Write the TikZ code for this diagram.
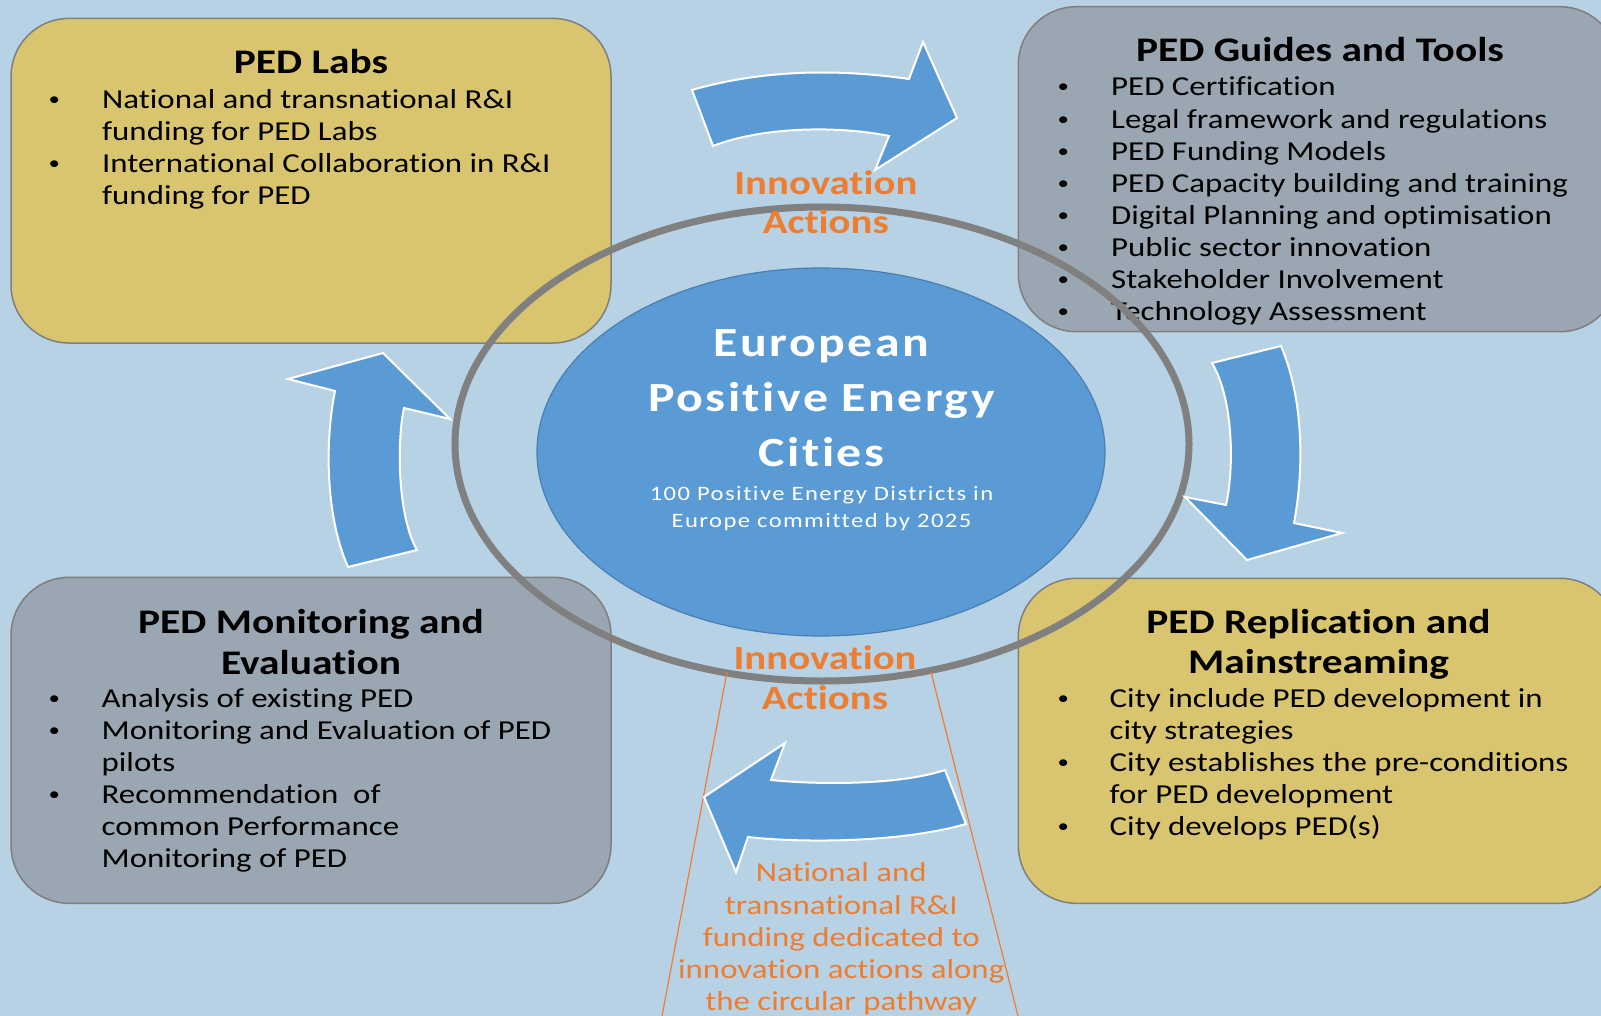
\documentclass[tikz,border=0pt]{standalone}
\usepackage{fontspec}
\setmainfont{Carlito}[FakeStretch=1.2,Ligatures=NoCommon]
\newfontfamily\ctrfont{Carlito}[FakeStretch=1.2,LetterSpace=6,Ligatures=NoCommon]
\newfontfamily\ctrsfont{Carlito}[FakeStretch=1.2,LetterSpace=7,Ligatures=NoCommon]
\definecolor{bgblue}{HTML}{B8D2E5}
\definecolor{boxyel}{HTML}{D9C56F}
\definecolor{boxgry}{HTML}{9AA6B1}
\definecolor{boxedge}{HTML}{7F7F7F}
\definecolor{midblue}{HTML}{5B9BD5}
\definecolor{blueedge}{HTML}{4A7EB0}
\definecolor{ringgry}{HTML}{808080}
\definecolor{orng}{HTML}{ED7D31}
\newcommand\bodyfnt{\fontsize{27.4}{32}\selectfont}
\newcommand\bulfnt{\fontsize{19}{22}\selectfont}
\newcommand\ttlfnt{\fontsize{34.5}{40}\selectfont\bfseries}
\newcommand\ctrbig{\ctrfont\fontsize{41.5}{55}\selectfont\bfseries}
\newcommand\ctrsmall{\ctrsfont\fontsize{20.5}{27}\selectfont}
\newcommand\innofnt{\fontsize{34}{39}\selectfont\bfseries}
\tikzset{
  boxY/.style={fill=boxyel,draw=boxedge,line width=1.5pt,rounded corners=58pt},
  boxG/.style={fill=boxgry,draw=boxedge,line width=1.5pt,rounded corners=58pt},
  body/.style={font=\bodyfnt,anchor=base west,inner sep=0pt,text=black},
  bul/.style={font=\bulfnt,anchor=base west,inner sep=0pt,text=black,yshift=3pt},
  ttl/.style={font=\ttlfnt,anchor=base,inner sep=0pt,text=black},
  ctrt/.style={font=\ctrbig,anchor=base,inner sep=0pt,text=white},
  ctrs/.style={font=\ctrsmall,anchor=base,inner sep=0pt,text=white},
  inno/.style={font=\innofnt,anchor=base,inner sep=0pt,text=orng},
  otxt/.style={font=\bodyfnt,anchor=base,inner sep=0pt,text=orng},
  arr/.style={fill=midblue,draw=white,line width=2pt,line join=miter},
}
\begin{document}
\begin{tikzpicture}[x=1pt,y=-1pt]
\useasboundingbox (0,0) rectangle (1601,1016);
\clip (0,0) rectangle (1601,1016);
\fill[bgblue] (0,0) rectangle (1601,1016);

% boxes
\draw[boxY] (11,18.4) rectangle (611,343);
\draw[boxG] (1018.3,6.7) rectangle (1618,331.7);
\draw[boxG] (11,577.3) rectangle (611,903.3);
\draw[boxY] (1018.3,578.3) rectangle (1618,903.3);

% PED Labs
\node[ttl] (t1) at (311,74) {PED Labs};
\node[bul] (b1a) at (48.5,108.3) {•};
\node[body] (l1a) at (102,108.3) {National and transnational R\&I};
\node[body] (l1b) at (102,140.4) {funding for PED Labs};
\node[bul] (b1b) at (48.5,172.5) {•};
\node[body] (l1c) at (102,172.5) {International Collaboration in R\&I};
\node[body] (l1d) at (102,204.6) {funding for PED};

% PED Guides and Tools
\node[ttl] (t2) at (1320,61.7) {PED Guides and Tools};
\node[bul] (b2a) at (1057.5,96) {•};
\node[body] (l2a) at (1111,96) {PED Certification};
\node[bul] (b2b) at (1057.5,128.1) {•};
\node[body] (l2b) at (1111,128.1) {Legal framework and regulations};
\node[bul] (b2c) at (1057.5,160.2) {•};
\node[body] (l2c) at (1111,160.2) {PED Funding Models};
\node[bul] (b2d) at (1057.5,192.3) {•};
\node[body] (l2d) at (1111,192.3) {PED Capacity building and training};
\node[bul] (b2e) at (1057.5,224.4) {•};
\node[body] (l2e) at (1111,224.4) {Digital Planning and optimisation};
\node[bul] (b2f) at (1057.5,256.5) {•};
\node[body] (l2f) at (1111,256.5) {Public sector innovation};
\node[bul] (b2g) at (1057.5,288.6) {•};
\node[body] (l2g) at (1111,288.6) {Stakeholder Involvement};
\node[bul] (b2h) at (1057.5,320.7) {•};
\node[body] (l2h) at (1111,320.7) {Technology Assessment};

% PED Monitoring and Evaluation
\node[ttl] (t3a) at (311,633.3) {PED Monitoring and};
\node[ttl] (t3b) at (311,674) {Evaluation};
\node[bul] (b3a) at (48.5,707.3) {•};
\node[body] (l3a) at (101.5,707.3) {Analysis of existing PED};
\node[bul] (b3b) at (48.5,739.4) {•};
\node[body] (l3b) at (101.5,739.4) {Monitoring and Evaluation of PED};
\node[body] (l3c) at (101.5,771.5) {pilots};
\node[bul] (b3c) at (48.5,803.6) {•};
\node[body] (l3d) at (101.5,803.6) {Recommendation\ \ of};
\node[body] (l3e) at (101.5,835.7) {common Performance};
\node[body] (l3f) at (101.5,867.8) {Monitoring of PED};

% PED Replication and Mainstreaming
\node[ttl] (t4a) at (1318.5,633.3) {PED Replication and};
\node[ttl] (t4b) at (1318.5,673.3) {Mainstreaming};
\node[bul] (b4a) at (1057.5,707.3) {•};
\node[body] (l4a) at (1109.5,707.3) {City include PED development in};
\node[body] (l4b) at (1109.5,739.4) {city strategies};
\node[bul] (b4b) at (1057.5,771.5) {•};
\node[body] (l4c) at (1109.5,771.5) {City establishes the pre-conditions};
\node[body] (l4d) at (1109.5,803.6) {for PED development};
\node[bul] (b4c) at (1057.5,835.7) {•};
\node[body] (l4e) at (1109.5,835.7) {City develops PED(s)};

% centre ellipse
\draw[fill=midblue,draw=blueedge,line width=1.2pt] (821,452) ellipse [x radius=284pt, y radius=184pt];
\node[ctrt] (c1) at (821.5,356.7) {European};
\node[ctrt] (c2) at (821.5,411.7) {Positive Energy};
\node[ctrt] (c3) at (821.5,466.7) {Cities};
\node[ctrs] (c4) at (821.5,500) {100 Positive Energy Districts in};
\node[ctrs] (c5) at (821.5,527.7) {Europe committed by 2025};

% ring
\draw[ringgry,line width=7pt] (822,444) ellipse [x radius=367pt, y radius=237pt];

% orange funnel lines
\coordinate (fl1) at (727,672);
\coordinate (fl2) at (662,1016);
\coordinate (fr1) at (931,672);
\coordinate (fr2) at (1018,1016);
\draw[orng,line width=1.2pt] (fl1) -- (fl2);
\draw[orng,line width=1.2pt] (fr1) -- (fr2);

% arrows
\draw[arr] (692,90) .. controls (765,69) and (840,69) .. (909,79) -- (923,42) -- (957,118) -- (875,170) -- (889,136) .. controls (840,126) and (765,126) .. (713,146) -- cycle;
\draw[arr] (1212,363) -- (1281,346) .. controls (1304,400) and (1304,470) .. (1294,523) -- (1342,533) -- (1247,560) -- (1185,497) -- (1226,505) .. controls (1234,470) and (1234,400) .. (1212,363) -- cycle;
\draw[arr] (348,567) -- (417,550) .. controls (397,515) and (397,440) .. (404,408) -- (450,419) -- (383,353) -- (288,379) -- (335,391) .. controls (325,440) and (325,515) .. (348,567) -- cycle;
\draw[arr] (945,770) -- (966,824) .. controls (900,843) and (800,843) .. (748,837) -- (736,872) -- (704,797) -- (785,743) -- (771,780) .. controls (820,785) and (900,785) .. (945,770) -- cycle;

% innovation actions
\node[inno] (i1) at (825.8,195) {Innovation};
\node[inno] (i2) at (825.8,234) {Actions};
\node[inno] (i3) at (825,669.3) {Innovation};
\node[inno] (i4) at (825,709.3) {Actions};

% bottom orange text
\node[otxt] (o1) at (841.3,881.7) {National and};
\node[otxt] (o2) at (841.3,914) {transnational R\&I};
\node[otxt] (o3) at (841.3,946) {funding dedicated to};
\node[otxt] (o4) at (841.3,978.3) {innovation actions along};
\node[otxt] (o5) at (841.3,1010) {the circular pathway};
\end{tikzpicture}
\end{document}
